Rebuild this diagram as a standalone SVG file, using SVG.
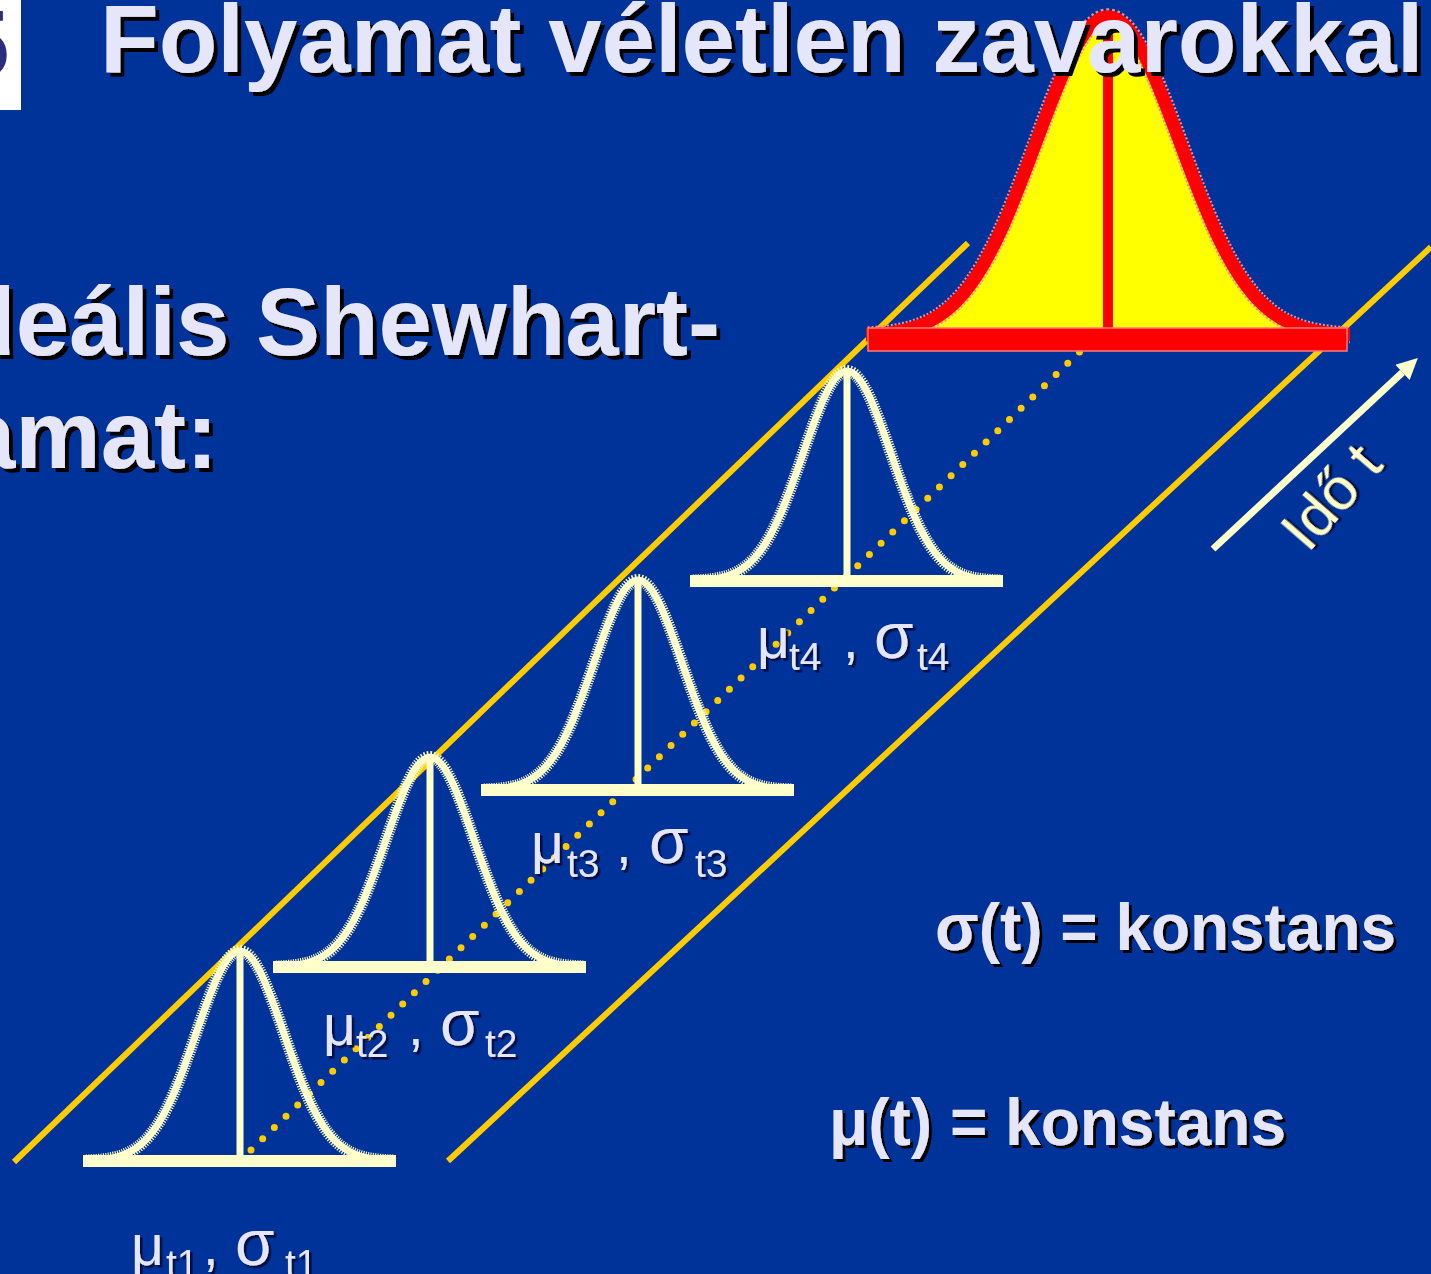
<svg xmlns="http://www.w3.org/2000/svg" xmlns:xlink="http://www.w3.org/1999/xlink" width="1431" height="1274" viewBox="0 0 1431 1274">
<style>
 .t{font-family:"Liberation Sans",Arial,sans-serif;}
 .big{font-weight:bold;font-size:96px;fill:#E6E6FA;filter:url(#sh4);}
 .k{font-weight:bold;font-size:66px;fill:#E6E6FA;filter:url(#sh3);}
 .lab{font-size:56px;fill:#E6E6FA;filter:url(#sh2);}
 .mu{font-size:57px;}
 .gr{font-size:64px;}
 .sub{font-size:39px;}
 .yl{stroke:#FFCC00;stroke-width:6;fill:none;}
 .dot{stroke:#FFCC00;stroke-width:7;stroke-linecap:round;stroke-dasharray:0 16.2;fill:none;}
 .bz{fill:none;stroke:#FFFFCC;stroke-width:12;stroke-dasharray:1.2 1.3;}
 .bs{fill:none;stroke:#FFFFCC;stroke-width:7;}
 .cream{fill:#FFFFCC;}
</style>
<defs>
 <filter id="sh4" x="-5%" y="-20%" width="110%" height="140%"><feDropShadow dx="4" dy="4" stdDeviation="0" flood-color="#000" flood-opacity="1"/></filter>
 <filter id="sh3" x="-5%" y="-20%" width="110%" height="140%"><feDropShadow dx="3" dy="3" stdDeviation="0" flood-color="#000" flood-opacity="1"/></filter>
 <filter id="sh2" x="-10%" y="-20%" width="120%" height="140%"><feDropShadow dx="2.5" dy="2.5" stdDeviation="0" flood-color="#001040" flood-opacity="1"/></filter>
 <clipPath id="clipLogo"><rect x="0" y="0" width="21" height="110"/></clipPath>
 <clipPath id="clipRed"><rect x="866" y="0" width="484" height="360"/></clipPath>
 <path id="curve" vector-effect="non-scaling-stroke" d="M-154,-0.5 C-146.67,-0.77 -139.33,-1.13 -132,-2.3 C-124.67,-3.47 -117.33,-5.36 -110,-9.2 C-102.67,-13.04 -95.33,-18.93 -88,-28.4 C-80.67,-37.87 -73.33,-51.15 -66,-68.2 C-58.67,-85.25 -51.33,-106.17 -44,-127.4 C-36.67,-148.63 -29.33,-169.86 -22,-185.3 C-14.67,-200.74 -7.33,-210 0,-210 C7.33,-210 14.67,-200.74 22,-185.3 C29.33,-169.86 36.67,-148.63 44,-127.4 C51.33,-106.17 58.67,-85.25 66,-68.2 C73.33,-51.15 80.67,-37.87 88,-28.4 C95.33,-18.93 102.67,-13.04 110,-9.2 C117.33,-5.36 124.67,-3.47 132,-2.3 C139.33,-1.13 146.67,-0.77 154,-0.5"/>
 <g id="bell">
  <use xlink:href="#curve" class="bz"/>
  <use xlink:href="#curve" class="bs"/>
  <rect class="cream" x="-3.5" y="-210" width="7" height="210"/>
  <rect class="cream" x="-157" y="-6" width="313" height="12"/>
 </g>
 <marker id="ah" viewBox="0 0 10 10" refX="0" refY="5" markerWidth="3.43" markerHeight="3" orient="auto" markerUnits="strokeWidth">
  <path d="M0,0 L10,5 L0,10 z" fill="#FFFFCC"/>
 </marker>
</defs>

<rect x="0" y="0" width="1431" height="1274" fill="#003399"/>

<g id="logo">
 <rect x="0" y="0" width="21" height="110" fill="#FFFFFF"/>
 <text class="t" clip-path="url(#clipLogo)" x="-44" y="77" font-size="96" font-weight="bold" fill="#2D2D80">5</text>
</g>

<g id="connectors">
 <line class="yl" x1="14" y1="1162" x2="968" y2="243"/>
 <line class="yl" x1="448" y1="1161" x2="1431" y2="247"/>
 <line class="dot" x1="251" y1="1150" x2="1091" y2="341"/>
 <line x1="1213" y1="549" x2="1402.5" y2="372.4" stroke="#FFFFCC" stroke-width="7" marker-end="url(#ah)"/>
</g>

<g id="node-t1">
 <use xlink:href="#bell" transform="translate(240,1161)"/>
 <text class="t lab"><tspan class="mu" x="131" y="1265">μ</tspan><tspan class="sub" x="166" y="1277">t1</tspan><tspan x="203" y="1265">,</tspan><tspan class="gr" x="235" y="1265">σ</tspan><tspan class="sub" x="285" y="1277">t1</tspan></text>
</g>
<g id="node-t2">
 <use xlink:href="#bell" transform="translate(430,967)"/>
 <text class="t lab"><tspan class="mu" x="323" y="1045">μ</tspan><tspan class="sub" x="356" y="1057">t2</tspan><tspan x="408" y="1045">,</tspan><tspan class="gr" x="440" y="1045">σ</tspan><tspan class="sub" x="485" y="1057">t2</tspan></text>
</g>
<g id="node-t3">
 <use xlink:href="#bell" transform="translate(638,790)"/>
 <text class="t lab"><tspan class="mu" x="531" y="863">μ</tspan><tspan class="sub" x="567" y="877">t3</tspan><tspan x="616" y="863">,</tspan><tspan class="gr" x="649" y="863">σ</tspan><tspan class="sub" x="695" y="877">t3</tspan></text>
</g>
<g id="node-t4">
 <use xlink:href="#bell" transform="translate(847,581)"/>
 <text class="t lab"><tspan class="mu" x="757" y="658">μ</tspan><tspan class="sub" x="789" y="670">t4</tspan><tspan x="843" y="658">,</tspan><tspan class="gr" x="874" y="658">σ</tspan><tspan class="sub" x="917" y="670">t4</tspan></text>
</g>

<g id="node-red">
 <g clip-path="url(#clipRed)">
  <use xlink:href="#curve" transform="translate(1108,336) scale(1.636,1.52)" fill="#FFFF00" stroke="#FF8A8A" stroke-width="17" stroke-dasharray="2 2"/>
  <use xlink:href="#curve" transform="translate(1108,336) scale(1.636,1.52)" fill="none" stroke="#FF0000" stroke-width="13"/>
 </g>
 <rect x="1103" y="13" width="10" height="320" fill="#FF0000"/>
 <rect x="868" y="328" width="479" height="23" fill="#FF0000" stroke="#FF7A7A" stroke-width="1.5"/>
</g>

<g id="title">
 <text class="t big" x="100" y="72">Folyamat véletlen zavarokkal</text>
</g>
<g id="heading">
 <text class="t big" x="720" y="355" text-anchor="end">Ideális Shewhart-</text>
 <text class="t big" x="218" y="468" text-anchor="end">folyamat:</text>
</g>

<g id="sigma-const">
 <text class="t k" x="935" y="950" textLength="461" lengthAdjust="spacingAndGlyphs">σ(t) = konstans</text>
</g>
<g id="mu-const">
 <text class="t k" x="829" y="1145" textLength="457" lengthAdjust="spacingAndGlyphs">μ(t) = konstans</text>
</g>

<g id="time-label">
 <text class="t" transform="translate(1308,554) rotate(-49)" font-size="60" fill="#FFFFCC" filter="url(#sh2)">Idő t</text>
</g>
</svg>
